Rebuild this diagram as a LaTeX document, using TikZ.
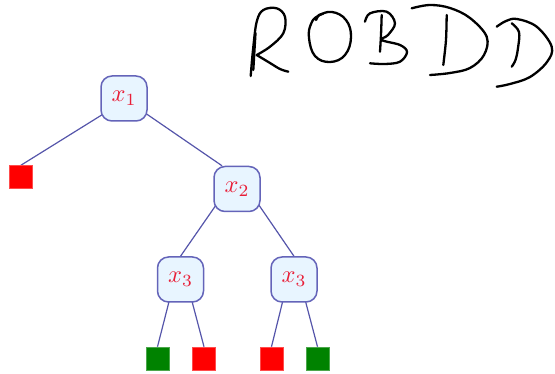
\documentclass[tikz,border=0pt]{standalone}
\usepackage{graphicx}
\usetikzlibrary{calc,backgrounds}

\definecolor{edgeblue}{RGB}{85,85,170}
\definecolor{boxfill}{RGB}{232,245,255}
\definecolor{boxline}{RGB}{100,100,185}
\definecolor{varred}{RGB}{232,30,55}
\definecolor{termred}{RGB}{255,0,0}
\definecolor{termgreen}{RGB}{0,130,0}

\newcommand{\bigvar}[1]{\scalebox{2.45}{$x_{#1}$}}

\tikzset{
  varnode/.style={draw=boxline, fill=boxfill, line width=1.5pt,
    rounded corners=11pt, minimum width=46pt, minimum height=45pt,
    inner sep=0pt, text=varred},
  zeroleaf/.style={fill=termred, draw=termred!70!white, line width=0.6pt,
    minimum size=23pt, inner sep=0pt},
  oneleaf/.style={fill=termgreen, draw=termgreen!70!white, line width=0.6pt,
    minimum size=23pt, inner sep=0pt},
  link/.style={draw=edgeblue, line width=1.2pt},
  ink/.style={draw=black, line width=2.3pt, line cap=round, line join=round}
}

\begin{document}
\begin{tikzpicture}[x=1pt, y=-1pt]
\useasboundingbox (0,0) rectangle (555,374);

% decision nodes
\node[varnode] (x1)  at (124,98.5)  {\bigvar{1}};
\node[varnode] (x2)  at (237,189)   {\bigvar{2}};
\node[varnode] (x3a) at (180.5,279.5) {\bigvar{3}};
\node[varnode] (x3b) at (294,279.5) {\bigvar{3}};

% terminal leaves
\node[zeroleaf] (z0) at (21,177)      {};
\node[oneleaf]  (o1) at (157.5,358.5) {};
\node[zeroleaf] (z1) at (204,358.5)   {};
\node[zeroleaf] (z2) at (271.5,358.5) {};
\node[oneleaf]  (o2) at (317.5,358.5) {};

% edges, kept behind the nodes
\begin{scope}[on background layer]
  \path[link] ($(x1.center)+(-7,7)$) -- (z0.north);
  \path[link] (x1.center) -- ($(x2.north)+(-15,0)$);
  \path[link] ($(x2.center)+(-14,6)$) -- (x3a.north);
  \path[link] ($(x2.center)+(15,6)$) -- (x3b.north);
  \path[link] ($(x3a.center)+(-8.5,10.5)$) -- (o1.north);
  \path[link] ($(x3a.center)+(8.5,10.5)$) -- (z1.north);
  \path[link] ($(x3b.center)+(-8.5,10.5)$) -- (z2.north);
  \path[link] ($(x3b.center)+(8.5,10.5)$) -- (o2.north);
\end{scope}

% handwritten title: R O B D D
% R
\draw[ink] plot[smooth, tension=0.6] coordinates {
  (250.7,76) (253,50) (256.7,21.7) (263.3,10) (276.7,8.3) (285,16.7)
  (283.3,33.3) (270,46.7) (256.7,55)};
\draw[ink] plot[smooth, tension=0.6] coordinates {
  (256.7,55) (270,63) (280,69) (288.3,71.7)};
\draw[ink] (255.5,33) -- (253.3,70);
% O
\draw[ink] plot[smooth cycle, tension=0.7] coordinates {
  (318,16) (332,12) (346,20) (351,37) (345,55) (330,62) (315,56)
  (309,38) (311,24)};
\draw[ink] plot[smooth, tension=0.6] coordinates {(316,20) (319,15) (323,14)};
% B
\draw[ink] plot[smooth, tension=0.5] coordinates {(381.7,15) (381,35) (380,51.7)};
\draw[ink] plot[smooth, tension=0.6] coordinates {
  (365,21.7) (370,13.3) (386.7,11.7) (395,23.3) (388,35) (381.7,40)
  (400,45) (407,52) (400,61.7) (385,64) (370,63.3)};
% first D
\draw[ink] plot[smooth, tension=0.5] coordinates {(446.7,15) (446,40) (443.3,65)};
\draw[ink] plot[smooth, tension=0.6] coordinates {
  (411.7,8.3) (430,5) (450,8) (470,18) (486.7,36.7) (484,55) (470,68)
  (450,73) (430,75)};
% second D
\draw[ink] plot[smooth, tension=0.6] coordinates {
  (511.7,23.3) (519,32) (518,48) (515.5,60) (511.7,66.7)};
\draw[ink] plot[smooth, tension=0.6] coordinates {
  (496.7,26.7) (506,21) (517,19) (536.7,26.7) (551.7,46.7) (547,62)
  (530,77) (510,84) (496.7,86.7)};
\end{tikzpicture}
\end{document}
